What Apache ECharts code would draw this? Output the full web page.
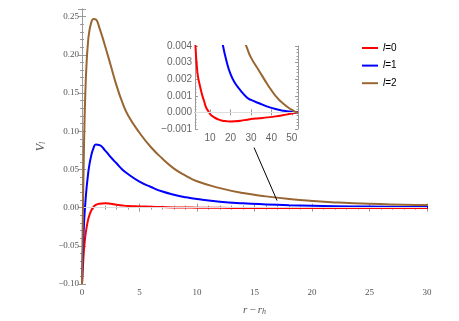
<!DOCTYPE html>
<html>
<head>
<meta charset="utf-8">
<script src="https://cdn.jsdelivr.net/npm/echarts@6/dist/echarts.min.js"></script>
<style>
  html, body { margin: 0; padding: 0; background: #fff; }
  #chart { width: 459px; height: 321px; }
</style>
</head>
<body>
<div id="chart"></div>
<script>
// r - r_h sample points (shared by the main plot and the inset)
var xs = [0, 0.05, 0.1, 0.15, 0.2, 0.3, 0.4, 0.5, 0.6, 0.8, 1.0, 1.2, 1.5, 2, 2.5, 3, 3.5, 4, 5, 6, 7, 8, 9, 10,
          12, 14, 16, 18, 20, 22, 25, 28, 30, 34, 38, 42, 46, 50, 53];

// V_l
var v0 = [-0.100, -0.085, -0.072, -0.060, -0.050, -0.036, -0.026, -0.018, -0.012, -0.004, 0.001, 0.0035, 0.0052,
          0.0058, 0.0050, 0.0036, 0.0028, 0.0022, 0.0016, 0.0011, 0.0007, 0.0003, 0.0001, -0.0001,
          -0.0003, -0.00042, -0.0005, -0.00053, -0.00055, -0.00054, -0.0005, -0.00044, -0.0004,
          -0.00035, -0.0003, -0.00024, -0.00016, -0.00007, 0.00002];
var v1 = [-0.100, -0.072, -0.048, -0.030, -0.014, 0.008, 0.026, 0.040, 0.052, 0.068, 0.078, 0.0825, 0.082,
          0.075, 0.066, 0.058, 0.050, 0.044, 0.034, 0.027, 0.021, 0.0168, 0.0136, 0.0112,
          0.0077, 0.0056, 0.0042, 0.0031, 0.0023, 0.0018, 0.0013, 0.0009, 0.00075,
          0.00055, 0.00035, 0.0002, 0.0001, 0.00003, -0.00001];
var v2 = [-0.100, -0.040, 0.015, 0.060, 0.100, 0.155, 0.190, 0.212, 0.227, 0.242, 0.247, 0.2465, 0.236,
          0.212, 0.186, 0.160, 0.138, 0.121, 0.098, 0.079, 0.064, 0.051, 0.042, 0.0345,
          0.0255, 0.019, 0.0147, 0.0113, 0.0087, 0.0068, 0.0049, 0.0039, 0.0033,
          0.0025, 0.0017, 0.0010, 0.0005, 0.00015, -0.00005];

var names = ['l=0', 'l=1', 'l=2'];
var colors = ['#ff0000', '#0000ff', '#996633'];
var mainYTicks = [-0.10, -0.05, 0.00, 0.05, 0.10, 0.15, 0.20, 0.25];
var insetXTicks = [10, 20, 30, 40, 50];

// arrow from the inset down to the curves, in data coordinates
var arrowFrom = [14.96, 0.0786];
var arrowTo = [16.96, 0.0092];

function pairs(vals) {
    return xs.map(function (x, i) { return [x, vals[i]]; });
}

var chart = echarts.init(document.getElementById('chart'));

var frameLine = { show: true, lineStyle: { color: '#9a9a9a', width: 1 } };
var serifLabel = { fontFamily: 'Liberation Serif', fontSize: 9, color: '#555' };
var sansLabel = { fontFamily: 'Liberation Sans', fontSize: 10, color: '#666' };

function mainX(pos, show) {
    return {
        type: 'value', gridIndex: 0, position: pos, min: 0, max: 30, interval: 5,
        axisLine: frameLine, splitLine: { show: false },
        axisTick: { inside: true, length: 4, lineStyle: { color: '#9a9a9a' } },
        minorTick: { show: true, splitNumber: 5, length: 2, lineStyle: { color: '#9a9a9a' } },
        axisLabel: Object.assign({ show: show, margin: 4 }, serifLabel)
    };
}
function mainY(pos, show) {
    return {
        type: 'value', gridIndex: 0, position: pos, min: -0.1, max: 0.26, interval: 0.05,
        axisLine: frameLine, splitLine: { show: false },
        axisTick: { inside: true, length: 4, lineStyle: { color: '#9a9a9a' } },
        minorTick: { show: true, splitNumber: 5, length: 2, lineStyle: { color: '#9a9a9a' } },
        axisLabel: Object.assign({
            show: show, margin: 3,
            customValues: mainYTicks,
            formatter: function (v) { return v.toFixed(2).replace('-', '\u2212'); }
        }, serifLabel)
    };
}
function insetX(pos, show) {
    return {
        type: 'value', gridIndex: 1, position: pos, min: 2.6, max: 53,
        axisLine: frameLine, splitLine: { show: false },
        axisTick: { inside: true, length: 3, customValues: insetXTicks, lineStyle: { color: '#9a9a9a' } },
        axisLabel: Object.assign({ show: show, margin: 4, customValues: insetXTicks }, sansLabel)
    };
}
function insetY(pos, show) {
    return {
        type: 'value', gridIndex: 1, position: pos, min: -0.001, max: 0.004, interval: 0.001,
        axisLine: frameLine, splitLine: { show: false },
        axisTick: { inside: true, length: 3, lineStyle: { color: '#9a9a9a' } },
        minorTick: { show: true, splitNumber: 5, length: 1.5, lineStyle: { color: '#9a9a9a' } },
        axisLabel: Object.assign({
            show: show, margin: 3,
            formatter: function (v) { return v.toFixed(3).replace('-', '\u2212'); }
        }, sansLabel)
    };
}

var series = [];
[v0, v1, v2].forEach(function (vals, i) {
    series.push({
        name: names[i], type: 'line', xAxisIndex: 0, yAxisIndex: 0,
        data: pairs(vals), showSymbol: false, smooth: 0.5,
        lineStyle: { color: colors[i], width: 2 }, itemStyle: { color: colors[i] },
        z: 3 + i
    });
    series.push({
        name: names[i], type: 'line', xAxisIndex: 2, yAxisIndex: 2,
        data: pairs(vals), showSymbol: false, smooth: 0.5,
        lineStyle: { color: colors[i], width: 2 }, itemStyle: { color: colors[i] },
        z: 3 + i
    });
});

// faint zero lines
series[0].markLine = {
    silent: true, symbol: 'none', animation: false, label: { show: false },
    lineStyle: { color: '#dddddd', width: 1, type: 'solid' },
    data: [{ yAxis: 0 }]
};
series[1].markLine = {
    silent: true, symbol: 'none', animation: false, label: { show: false },
    lineStyle: { color: '#dddddd', width: 1, type: 'solid' },
    data: [{ yAxis: 0 }]
};
// arrow
series[4].markLine = {
    silent: true, symbol: ['none', 'arrow'], symbolSize: [0, 11], animation: false,
    label: { show: false }, z: 10,
    lineStyle: { color: '#000', width: 1, type: 'solid' },
    data: [[{ coord: arrowFrom }, { coord: arrowTo }]]
};

var option = {
    backgroundColor: '#fff',
    animation: false,
    grid: [
        { left: 82, right: 32, top: 9, bottom: 37 },
        { left: 195, top: 46, width: 103, height: 83, backgroundColor: '#fff', show: true, borderWidth: 0 }
    ],
    legend: {
        data: names, orient: 'vertical', left: 357, top: 37,
        icon: 'rect', itemWidth: 16, itemHeight: 2, itemGap: 5.6,
        textStyle: {
            fontFamily: 'Liberation Sans', fontSize: 10, color: '#000', lineHeight: 12,
            rich: { i: { fontFamily: 'Liberation Sans', fontSize: 10, fontStyle: 'italic', color: '#000' } }
        },
        formatter: function (name) { return '{i|l}' + name.slice(1); }
    },
    xAxis: [
        Object.assign(mainX('bottom', true), {
            name: '{i|r}\u2009\u2212\u2009{i|r}{s|h}', nameLocation: 'middle', nameGap: 20,
            nameTextStyle: {
                fontFamily: 'Liberation Serif', fontSize: 11, color: '#555',
                rich: {
                    i: { fontFamily: 'Liberation Serif', fontStyle: 'italic', fontSize: 11, color: '#555' },
                    s: { fontFamily: 'Liberation Serif', fontStyle: 'italic', fontSize: 8, color: '#555', verticalAlign: 'bottom', padding: [4, 0, 0, 0] }
                }
            }
        }),
        mainX('top', false),
        insetX('bottom', true),
        insetX('top', false)
    ],
    yAxis: [
        Object.assign(mainY('left', true), {
            name: '{i|V}{s|l}', nameLocation: 'middle', nameGap: 29, nameRotate: 90,
            nameTextStyle: {
                fontFamily: 'Liberation Serif', fontSize: 11, color: '#555',
                rich: {
                    i: { fontFamily: 'Liberation Serif', fontStyle: 'italic', fontSize: 12, color: '#555' },
                    s: { fontFamily: 'Liberation Serif', fontStyle: 'italic', fontSize: 8, color: '#555', verticalAlign: 'bottom', padding: [4, 0, 0, 0] }
                }
            }
        }),
        mainY('right', false),
        insetY('left', true),
        insetY('right', false)
    ],
    series: series
};

chart.setOption(option);
</script>
</body>
</html>
